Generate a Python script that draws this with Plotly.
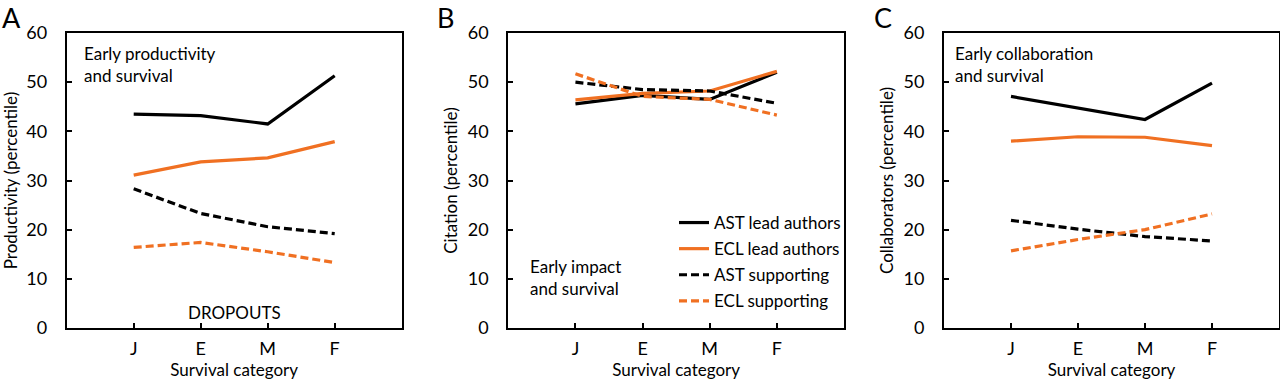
import plotly.graph_objects as go

categories = ["J", "E", "M", "F"]
series_names = ["AST lead authors", "ECL lead authors", "AST supporting", "ECL supporting"]

# Panel A: productivity
prod_ast_lead = [43.5, 43.2, 41.5, 51.3]
prod_ecl_lead = [31.1, 33.8, 34.6, 37.9]
prod_ast_supp = [28.3, 23.3, 20.6, 19.2]
prod_ecl_supp = [16.4, 17.4, 15.5, 13.3]

# Panel B: citation
cit_ast_lead = [45.6, 47.3, 46.5, 52.0]
cit_ecl_lead = [46.4, 47.7, 48.2, 52.2]
cit_ast_supp = [50.0, 48.5, 48.2, 45.7]
cit_ecl_supp = [51.7, 47.1, 46.5, 43.3]

# Panel C: collaborators
col_ast_lead = [47.1, 44.7, 42.4, 49.8]
col_ecl_lead = [38.0, 38.9, 38.8, 37.1]
col_ast_supp = [21.9, 20.1, 18.6, 17.7]
col_ecl_supp = [15.7, 18.0, 20.0, 23.2]

y_ticks = [0, 10, 20, 30, 40, 50, 60]

BLACK = "#000000"
ORANGE = "#F07022"
FONT = "Lato"

styles = [
    dict(color=BLACK, width=3.2, dash="solid"),
    dict(color=ORANGE, width=3.2, dash="solid"),
    dict(color=BLACK, width=3.2, dash="8px,4px"),
    dict(color=ORANGE, width=3.2, dash="8px,4px"),
]

panels = [
    ([prod_ast_lead, prod_ecl_lead, prod_ast_supp, prod_ecl_supp], "Productivity (percentile)"),
    ([cit_ast_lead, cit_ecl_lead, cit_ast_supp, cit_ecl_supp], "Citation (percentile)"),
    ([col_ast_lead, col_ecl_lead, col_ast_supp, col_ecl_supp], "Collaborators (percentile)"),
]

W, H = 1280, 381
x_domains = [(66.7, 401.7), (508.3, 844.0), (944.0, 1279.0)]
y_top, y_bot = 33, 328

fig = go.Figure()

for i, (data, ytitle) in enumerate(panels):
    xa = "x" if i == 0 else f"x{i+1}"
    ya = "y" if i == 0 else f"y{i+1}"
    for j, vals in enumerate(data):
        fig.add_trace(go.Scatter(
            x=categories, y=vals, mode="lines",
            name=series_names[j], line=styles[j],
            xaxis=xa, yaxis=ya,
            showlegend=(i == 1), legendgroup=series_names[j],
            hoverinfo="skip",
        ))
    axis_common = dict(
        showline=True, linecolor="black", linewidth=2, mirror=True,
        ticks="inside", ticklen=5, tickwidth=1.5, tickcolor="black",
        showgrid=False, zeroline=False, automargin=False,
        tickfont=dict(family=FONT, size=18, color="black"),
    )
    fig.layout[f"xaxis{'' if i == 0 else i+1}"] = dict(
        axis_common,
        domain=[x_domains[i][0] / W, x_domains[i][1] / W],
        anchor=ya,
        type="category",
        categoryorder="array", categoryarray=categories,
        range=[-1, 4],
        ticklabelstandoff=3,
        title=dict(text="Survival category", font=dict(family=FONT, size=17, color="black"), standoff=1),
    )
    fig.layout[f"yaxis{'' if i == 0 else i+1}"] = dict(
        axis_common,
        domain=[1 - y_bot / H, 1 - y_top / H],
        anchor=xa,
        range=[0, 60],
        tickvals=y_ticks,
        ticklabelstandoff=14,
        title=dict(text=ytitle, font=dict(family=FONT, size=17, color="black"), standoff=6),
    )

annotations = [
    dict(text="A", x=1, y=0, xanchor="left", yanchor="top", font=dict(size=27)),
    dict(text="B", x=436, y=0, xanchor="left", yanchor="top", font=dict(size=27)),
    dict(text="C", x=873, y=0, xanchor="left", yanchor="top", font=dict(size=27)),
    dict(text="Early productivity<br>and survival", x=83, y=42, xanchor="left", yanchor="top", font=dict(size=17), align="left"),
    dict(text="Early impact<br>and survival", x=529, y=255, xanchor="left", yanchor="top", font=dict(size=17), align="left"),
    dict(text="Early collaboration<br>and survival", x=954, y=42, xanchor="left", yanchor="top", font=dict(size=17), align="left"),
    dict(text="DROPOUTS", x=234, y=312, xanchor="center", yanchor="middle", font=dict(size=17), align="center"),
]
ann_objs = []
for a in annotations:
    f = dict(family=FONT, color="black")
    f.update(a.pop("font"))
    ann_objs.append(dict(
        a, x=a["x"] / W, y=1 - a["y"] / H, xref="paper", yref="paper",
        showarrow=False, font=f, borderpad=0,
    ))

fig.update_layout(
    width=W, height=H,
    margin=dict(l=0, r=0, t=0, b=0, autoexpand=False),
    paper_bgcolor="white", plot_bgcolor="white",
    font=dict(family=FONT, color="black"),
    annotations=ann_objs,
    showlegend=True,
    legend=dict(
        x=674 / W, y=1 - 205 / H, xanchor="left", yanchor="top",
        font=dict(family=FONT, size=17, color="black"),
        bgcolor="rgba(0,0,0,0)", itemwidth=30,
        traceorder="grouped", tracegroupgap=1,
    ),
)

fig.write_html(
    "out.html",
    config={"displayModeBar": False},
    post_script="document.body.style.margin='0';document.body.style.overflow='hidden';",
)
